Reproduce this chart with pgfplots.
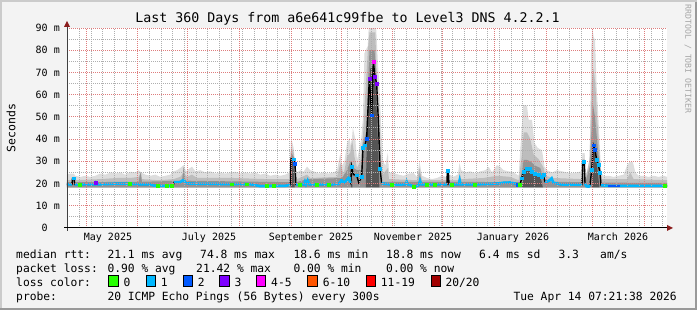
\documentclass[border=0pt]{standalone}
\usepackage{fontspec}
\setmainfont{DejaVu Sans Mono}
\usepackage{pgfplots}
\pgfplotsset{compat=1.18}
\definecolor{bgc}{HTML}{F3F3F3}
\definecolor{shadeA}{HTML}{CBCBCB}
\definecolor{shadeB}{HTML}{999999}
\definecolor{mgrid}{RGB}{222,125,125}
\definecolor{ngrid}{RGB}{175,175,175}
\definecolor{arrowc}{HTML}{8B1C1C}
\definecolor{sm1}{HTML}{DDDDDD}
\definecolor{sm2}{HTML}{BDBDBD}
\definecolor{sm3}{HTML}{939393}
\definecolor{sm4}{HTML}{555555}
\definecolor{l0}{HTML}{26FF00}
\definecolor{l1}{HTML}{00B8FF}
\definecolor{l2}{HTML}{0059FF}
\definecolor{l3}{HTML}{7E00FF}
\definecolor{l45}{HTML}{FF00FF}
\definecolor{l610}{HTML}{FF5500}
\definecolor{l1119}{HTML}{FF0000}
\definecolor{l20}{HTML}{A10000}
\begin{document}
\begin{tikzpicture}[x=1pt,y=1pt]
\useasboundingbox (0,0) rectangle (697,310);
\fill[bgc] (0,0) rectangle (697,310);
\fill[shadeA] (0,0) rectangle (2,310);
\fill[shadeA] (0,308) rectangle (697,310);
\fill[shadeB] (0,0) rectangle (697,2);
\fill[shadeB] (695,0) rectangle (697,308);
\begin{axis}[
  at={(67pt,82pt)}, anchor=south west,
  scale only axis, width=600pt, height=200pt,
  xmin=0, xmax=360, ymin=0, ymax=90,
  axis line style={draw=none},
  axis background/.style={fill=white},
  axis on top,
  tick style={draw=none},
  xtick={24.6,85.2,146.4,207.6,267.6,330.6},
  xticklabels={May 2025,July 2025,September 2025,November 2025,January 2026,March 2026},
  extra x ticks={11.5,42.5,72.5,103.5,134.5,164.5,195.5,225.5,256.5,287.5,315.5,346.5},
  extra x tick labels={},
  extra x tick style={xmajorgrids=true, major grid style={mgrid, line width=1pt, dash pattern=on 1pt off 1pt}},
  minor xtick={0.5,7.5,...,357.5},
  xminorgrids=true,
  ytick={0,10,...,90},
  yticklabels={0\hphantom{\ m},10 m,20 m,30 m,40 m,50 m,60 m,70 m,80 m,90 m},
  minor ytick={5,15,...,85},
  ymajorgrids=true, yminorgrids=true,
  major grid style={mgrid, line width=1pt, dash pattern=on 1pt off 1pt},
  minor grid style={ngrid, line width=1pt, dash pattern=on 1pt off 1pt},
  ticklabel style={font=\fontsize{10}{12}\selectfont, inner sep=0pt},
  yticklabel style={anchor=east, xshift=-7pt},
  xticklabel style={anchor=north, yshift=-5pt},
  unbounded coords=jump,
]
% light smoke
\addplot[fill=sm1, draw=none] coordinates {(0,18.3) (0,24.0) (2,24.5) (4,24.5) (5,23.5) (8,23.0) (11,23.5) (14,23.0) (17,23.5) (20,24.5) (23,24.0) (26,25.0) (29,24.5) (32,25.0) (35,24.0) (38,25.3) (41,25.0) (43,26.0) (44.5,25.0) (47,24.0) (50,23.5) (53,24.0) (56,23.0) (59,23.5) (62,24.0) (64,25.5) (66,26.0) (68,27.0) (70,28.3) (71.5,25.5) (73,26.5) (75,27.6) (77,25.5) (80,26.0) (83,25.0) (86,25.5) (89,24.5) (92,25.0) (95,24.5) (98,25.0) (101,25.3) (104,24.5) (107,25.0) (110,24.5) (113,25.0) (116,24.0) (119,24.5) (122,23.5) (125,24.0) (128,23.5) (131,24.0) (133.5,25.0) (134.5,40.4) (136,36) (137,28) (138,25.0) (140,26) (142,25.3) (144,27.6) (146,26) (148,25.5) (151,24.5) (154,25.0) (157,24.5) (160,25.0) (162,26) (164,33.6) (165,28) (166.5,30) (168,38) (169.5,40.5) (170.5,36) (171.5,45) (173,40) (174,30.6) (175,34) (176.5,40) (177.5,48.6) (178.5,78.7) (180.5,82) (181,90) (185.5,90) (186.5,75) (187.5,63.6) (188.5,45) (189.5,30.6) (191,28) (192.5,33.8) (193.2,25) (196,24.7) (199,24.0) (202,23.5) (205,24.5) (208,24.7) (210,23) (211.5,29.8) (213,23.5) (216,22.5) (219,22.0) (222,22.5) (225,23.5) (227.5,23) (228.4,26.5) (229.5,24) (232,23.1) (234.5,24) (235.5,29.2) (236.5,26) (239,25.0) (242,25.5) (245,24.5) (248,25.5) (251,26.0) (253,27.5) (255,25.0) (258,28.3) (260,27.5) (262,26.0) (265,25.5) (268,25.0) (271,23.5) (272.8,45) (273.8,55.4) (276,55) (277,48.6) (279,48.6) (280.5,38.2) (282.5,36) (285,35) (286.5,27.6) (288,26.0) (291,25.0) (294,26.0) (297,25.5) (300,25.0) (303,24.6) (306,25.0) (308.5,25.5) (309.3,33.7) (310.6,33.7) (311.2,24.5) (313,26) (313.8,40) (314.5,80) (315.2,90) (316,86) (316.8,84.6) (317.8,63.6) (318.8,50) (319.8,35) (320.5,25) (322,23.5) (325,23.5) (328,23.0) (331,23.5) (334,24.0) (336,28) (337.5,29.8) (339.5,29.8) (341,25.0) (343,23.5) (346,23.5) (349,23.0) (352,23.5) (355,23.0) (358,23.5) (360,23.0) (360,18.3)} -- cycle;
% medium smoke
\addplot[fill=sm2, draw=none] coordinates {(0,18.3) (0,21.5) (3,21.5) (3.4,23) (4.6,23) (5,21.5) (20,22) (30,22.5) (38,22.5) (43,23) (44.5,25) (45,22) (55,21.5) (64,22) (68,23) (70,25) (72,23) (75,24) (78,22.5) (100,22.5) (120,22) (133.5,22) (134.5,36) (136,34) (137,25) (138,22) (144,24) (146,22.5) (162,23) (164,29) (166,24) (168,32) (170,34) (171,40) (172.5,32) (174,27) (176,30) (177.5,40) (179,60) (180.5,80) (181.5,88) (185,88) (186,65) (187.5,50) (188.5,30) (189.5,24) (192.5,27) (193.2,22) (210,21.5) (211.5,27) (213,21.5) (228,21.5) (228.4,25) (229.2,21.5) (235,21.5) (235.6,25) (236.5,22) (250,22.5) (258,23.5) (266,23) (271,21.5) (272.8,32) (274,43) (276,43) (278,40) (280,33) (283,31) (286,27) (287,23.5) (292,22.5) (309,22) (309.4,31) (310.6,31) (311,21.5) (313.8,32) (314.8,65) (315.8,72) (317,65) (318,50) (319,40) (320,28) (320.8,22) (336,22) (338,25) (340,22) (360,21.5) (360,18.3)} -- cycle;
% dark smoke
\addplot[fill=sm3, draw=none] coordinates {(0,18.3) (0,20.6) (3,20.6) (3.4,22.8) (4.4,22.8) (4.8,20.6) (43,20.8) (44,25.3) (45,20.8) (69,21.3) (70,27.6) (71,21.3) (133.8,20.6) (134.4,34) (136.8,31) (137.4,20.6) (144.5,22) (165,22.5) (168,26) (170,30) (171,29) (172,27) (174,26) (176.5,26) (177.5,38) (179.5,43) (180.5,63.6) (181.5,80) (184.5,80) (185.8,68) (186.6,50) (188,28) (189,20.8) (211.3,20.8) (211.6,25) (212.6,20.8) (228,20.8) (228.3,26) (229,20.8) (271.8,20.6) (273,26) (274,30.6) (276,30.6) (278,30) (281,28) (284,27) (286,22) (291,20.8) (309,20.6) (309.4,30) (310.6,30) (311,20.4) (313.8,28) (314.8,45) (315.5,56) (316.8,50) (318,40) (319,32) (320.3,25) (320.8,20.4) (360,20.3) (360,18.3)} -- cycle;
% darkest smoke
\addplot[fill=sm4, draw=none] coordinates {(0,18.3) (134.2,18.3) (134.4,31) (135.8,30) (136.6,18.3) (170.5,18.3) (170.8,26) (171.2,18.3) (179.3,18.3) (180,42) (181,60) (182,72) (184.6,72) (185.5,60) (186.5,40) (187.4,18.3) (273,18.3) (274,25.5) (277,26.5) (280,24.5) (284,23.5) (285.5,18.3) (315,18.3) (315.4,34) (316.8,34) (318,28) (319.5,18.3) (360,18.3)} -- cycle;
% median, black underlay
\addplot[black, line width=1.4pt] coordinates {(0,19.6) (3.0,19.6) (3.3,22.4) (4.3,22.4) (4.6,19.6) (17,19.6) (17.4,20.3) (18,19.6) (25,19.8) (30,20.0) (38,20.0) (40,19.8) (44,19.6) (50,19.6) (52,19.1) (56,18.9) (63.6,18.9) (64.3,20.6) (68,20.6) (69.3,21.4) (70.3,21.4) (71,20.2) (74,20.0) (80,19.8) (90,19.8) (100,19.7) (110,19.7) (113,19.3) (116,18.8) (122,18.9) (128,19.0) (131,19.0) (134,19.4) (134.4,31.3) (135.8,31.0) (136.8,29.1) (137.3,19.6) (142.3,19.6) (142.8,20.8) (143.4,19.6) (144.4,21.4) (145.4,19.6) (158,19.6) (163,19.8) (164.5,21.3) (166.5,20.5) (168.8,22.4) (170.2,20.3) (170.8,27.6) (171.8,24.0) (173.8,23.8) (175,20.5) (176.8,23.0) (177.6,36) (178.8,37.3) (179.8,40.3) (181.4,67.3) (182.8,50.8) (183.8,74.8) (184.8,68.1) (185.8,65.1) (187,45) (187.8,26.8) (188.8,20.1) (194.8,19.5) (203.4,19.6) (203.8,20.8) (204.4,19.6) (206,19.4) (208,18.6) (210,18.8) (211.2,19.6) (211.8,21.3) (212.6,19.6) (228,19.6) (228.2,25.8) (228.8,25.8) (229.2,19.6) (235,19.6) (235.6,21.6) (236.2,19.6) (250,19.7) (258,20.0) (262,20.4) (266,20.5) (270,19.8) (271.8,19.4) (272.8,22.4) (273.8,25.3) (275.8,26.8) (277.8,26.8) (278.8,25.3) (280.8,24.6) (282.8,23.9) (284.8,23.1) (285.8,23.9) (286.8,20.8) (287.8,20.8) (289.8,21.6) (290.8,22.4) (291.8,20.4) (293.8,20.1) (296,19.6) (300,19.5) (309,19.5) (309.4,29.8) (310.4,29.8) (310.8,20.1) (311.6,18.8) (313,18.6) (313.8,19.4) (314.8,26.1) (315.8,37.3) (316.8,35.1) (317.8,30.6) (318.8,28.4) (319.8,24.9) (320.4,19.2) (325,19.0) (340,18.9) (360,18.9)};
% median, loss colour (flat parts)
\addplot[l1, line width=2.5pt] coordinates {(0,19.6) (3.0,19.6) (3.5,nan) (4.6,19.6) (17,19.6) (17.4,20.3) (18,19.6) (25,19.8) (30,20.0) (38,20.0) (40,19.8) (44,19.6) (50,19.6) (52,19.1) (56,18.9) (63.6,18.9) (64.0,nan) (64.3,20.6) (68,20.6) (69.3,21.4) (70.3,21.4) (71,20.2) (74,20.0) (80,19.8) (90,19.8) (100,19.7) (110,19.7) (113,19.3) (116,18.8) (122,18.9) (128,19.0) (131,19.0) (134,19.4) (135,nan) (137.3,19.6) (142.3,19.6) (142.8,20.8) (143.4,19.6) (144.4,21.4) (145.4,19.6) (158,19.6) (163,19.8) (164.5,21.3) (166.5,20.5) (168.8,22.4) (170.2,20.3) (172,nan) (188.8,20.1) (194.8,19.5) (203.4,19.6) (203.8,20.8) (204.4,19.6) (206,19.4) (208,18.6) (210,18.8) (211.2,19.6) (211.8,21.3) (212.6,19.6) (228,19.6) (228.5,nan) (229.2,19.6) (235,19.6) (235.6,21.6) (236.2,19.6) (250,19.7) (258,20.0) (262,20.4) (266,20.5) (270,19.8) (271.8,19.4) (272,nan) (286.8,20.8) (287.8,20.8) (289.8,21.6) (290.8,22.4) (291.8,20.4) (293.8,20.1) (296,19.6) (300,19.5) (309,19.5) (309.5,nan) (310.8,20.1) (311.6,18.8) (313,18.6) (313.8,19.4) (314,nan) (320.4,19.2) (325,19.0) (340,18.9) (360,18.9)};
\addplot[l2, line width=2.5pt] coordinates {(324.6,18.9) (331.8,18.9)};
% loss colour points
\addplot[only marks, mark=square*, mark size=1.4pt, l1, mark options={draw=none}] coordinates {(3.8,22.4) (135.8,31) (164.5,21.3) (168.8,22.4) (170.8,27.6) (173.8,23.8) (176.8,23) (177.6,36) (178.8,37.3) (187.8,26.8) (228.5,25.8) (272.8,22.4) (273.8,25.3) (275.8,26.8) (277.8,26.8) (278.8,25.3) (280.8,24.6) (282.8,23.9) (284.8,23.1) (285.8,23.9) (309.9,29.8) (314.8,26.1) (317.8,30.6) (318.8,28.4) (319.8,24.9)};
\addplot[only marks, mark=square*, mark size=1.4pt, l2, mark options={draw=none}] coordinates {(136.8,29.1) (179.8,40.3) (182.8,50.8) (315.8,37.3) (316.8,35.1) (270.4,19.5)};
\addplot[only marks, mark=square*, mark size=1.4pt, l0, mark options={draw=none}] coordinates {(7.8,19.6) (37.8,20.0) (54.6,18.9) (60,18.9) (63,18.9) (98.8,19.7) (107.8,19.7) (119.8,18.9) (123.8,18.9) (139.8,19.6) (149.8,19.6) (156.8,19.6) (194.8,19.5) (207.8,18.6) (215.8,19.6) (220.8,19.6) (230.8,19.6) (244.8,19.6) (271.6,19.4) (358.8,18.9)};
\addplot[only marks, mark=square*, mark size=1.4pt, l3, mark options={draw=none}] coordinates {(17.4,20.3) (181.4,67.3) (184.8,68.1) (185.8,65.1)};
\addplot[only marks, mark=square*, mark size=1.4pt, l45, mark options={draw=none}] coordinates {(183.8,74.8)};
\end{axis}
% axes
\draw[black!75, line width=1pt] (67,79) -- (67,285);
\fill[arrowc] (64,283) -- (67,289) -- (70,283) -- cycle;
\draw[black, line width=1pt] (64,82) -- (668,82);
\fill[arrowc] (667,79) -- (673,82) -- (667,85) -- cycle;
% title and labels
\node[font=\fontsize{13.3}{15}\selectfont, inner sep=0pt] at (347.5,291) {Last 360 Days from a6e641c99fbe to Level3 DNS 4.2.2.1};
\node[font=\fontsize{11.5}{13}\selectfont, inner sep=0pt, rotate=90] at (11,182) {Seconds};
\node[font=\fontsize{8.2}{10}\selectfont, inner sep=0pt, rotate=-90, text=black!35] at (688,251) {RRDTOOL / TOBI OETIKER};
% legend
\begin{scope}[every node/.style={font=\fontsize{11.3}{13}\selectfont, inner sep=0pt, anchor=base west}]
\node at (16,51.7) {median rtt:};
\node at (107.3,51.7) {21.1 ms avg};
\node at (200,51.7) {74.8 ms max};
\node at (293.3,51.7) {18.6 ms min};
\node at (386,51.7) {18.8 ms now};
\node at (479,51.7) {6.4 ms sd};
\node at (558.3,51.7) {3.3};
\node at (600,51.7) {am/s};
\node at (16,37.7) {packet loss:};
\node at (107.3,37.7) {0.90 \% avg};
\node at (196,37.7) {21.42 \% max};
\node at (293.3,37.7) {0.00 \% min};
\node at (386,37.7) {0.00 \% now};
\node at (16,23.7) {loss color:};
\node at (123.3,23.7) {0};
\node at (160.7,23.7) {1};
\node at (197.7,23.7) {2};
\node at (234.3,23.7) {3};
\node at (271,23.7) {4-5};
\node at (322.7,23.7) {6-10};
\node at (380.7,23.7) {11-19};
\node at (445.3,23.7) {20/20};
\node at (16,9.7) {probe:};
\node at (107.3,9.7) {20 ICMP Echo Pings (56 Bytes) every 300s};
\node at (513.3,9.7) {Tue Apr 14 07:21:38 2026};
\end{scope}
\begin{scope}[draw=black, line width=0.8pt]
\filldraw[fill=l0] (108.8,24) rectangle (118,35);
\filldraw[fill=l1] (146,24) rectangle (155.2,35);
\filldraw[fill=l2] (183,24) rectangle (192.2,35);
\filldraw[fill=l3] (219.8,24) rectangle (229,35);
\filldraw[fill=l45] (256.5,24) rectangle (265.7,35);
\filldraw[fill=l610] (307.8,24) rectangle (317,35);
\filldraw[fill=l1119] (366,24) rectangle (375.2,35);
\filldraw[fill=l20] (431,24) rectangle (440.2,35);
\end{scope}
\end{tikzpicture}
\end{document}
